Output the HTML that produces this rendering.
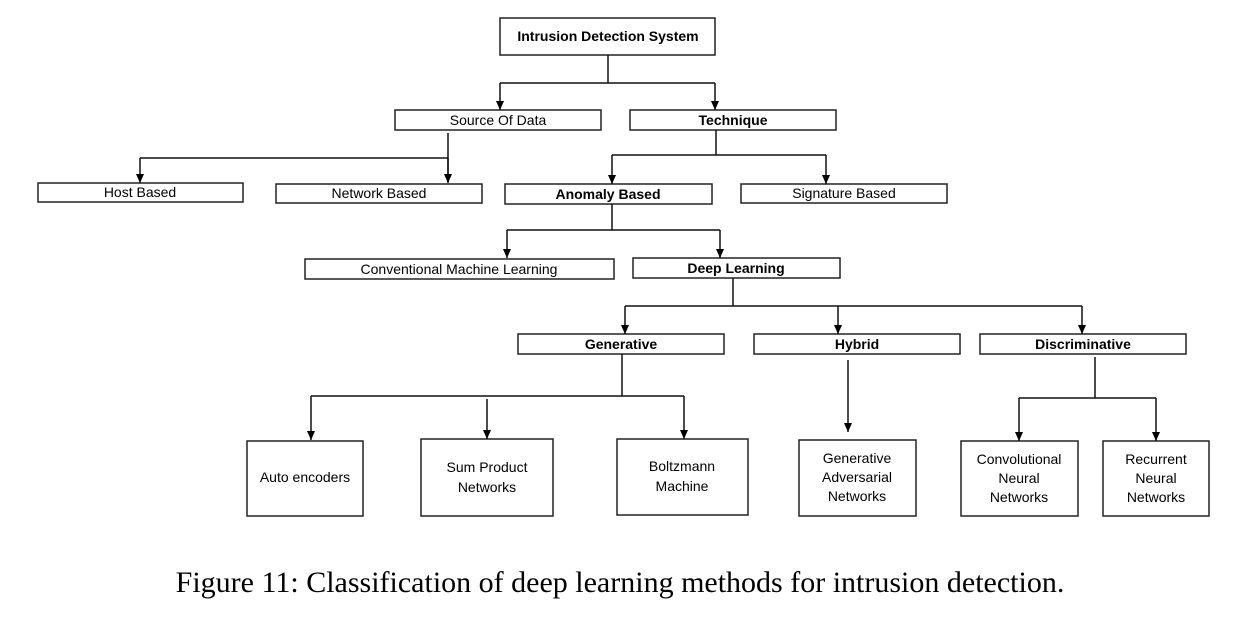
<!DOCTYPE html>
<html><head><style>
body{margin:0;background:#fff;width:1260px;height:615px;overflow:hidden}
svg text{font-family:"Liberation Sans",sans-serif;font-size:14px;fill:#000}
.b{font-weight:bold}
</style></head><body>
<svg width="1260" height="615" xmlns="http://www.w3.org/2000/svg">
<defs><marker id="a" markerWidth="9" markerHeight="9" refX="9" refY="4" orient="auto" markerUnits="userSpaceOnUse"><path d="M0,0 L9,4 L0,8 z" fill="#000"/></marker></defs>
<g fill="none" stroke="#222" stroke-width="1.5">
<rect x="500" y="18" width="215" height="37"/>
<rect x="395" y="110" width="206" height="20"/>
<rect x="630" y="110" width="206" height="20"/>
<rect x="38" y="183" width="205" height="19"/>
<rect x="276" y="184" width="206" height="19"/>
<rect x="505" y="184" width="207" height="20"/>
<rect x="741" y="184" width="206" height="19"/>
<rect x="305" y="259" width="309" height="20"/>
<rect x="633" y="258" width="207" height="20"/>
<rect x="518" y="334" width="206" height="20"/>
<rect x="754" y="334" width="206" height="20"/>
<rect x="980" y="334" width="206" height="20"/>
<rect x="247" y="441" width="116" height="75"/>
<rect x="421" y="439" width="132" height="77"/>
<rect x="617" y="439" width="131" height="76"/>
<rect x="799" y="440" width="117" height="76"/>
<rect x="961" y="441" width="117" height="75"/>
<rect x="1103" y="441" width="106" height="75"/>
</g>
<g fill="none" stroke="#111" stroke-width="1.5">
<path d="M608,55V83M500,83H715"/><path d="M500,83V110" marker-end="url(#a)"/><path d="M715,83V110" marker-end="url(#a)"/>
<path d="M448,133V182M140,158H448"/><path d="M140,158V183" marker-end="url(#a)"/><path d="M448,158V183" marker-end="url(#a)"/>
<path d="M716,130V155M612,155H826"/><path d="M612,155V184" marker-end="url(#a)"/><path d="M826,155V184" marker-end="url(#a)"/>
<path d="M612,204V230M507,230H720"/><path d="M507,230V258" marker-end="url(#a)"/><path d="M720,230V258" marker-end="url(#a)"/>
<path d="M733,278V306M625,306H1082"/><path d="M625,306V334" marker-end="url(#a)"/><path d="M838,306V334" marker-end="url(#a)"/><path d="M1082,306V334" marker-end="url(#a)"/>
<path d="M622,354V396M311,396H684"/><path d="M311,396V440" marker-end="url(#a)"/><path d="M487,399V439" marker-end="url(#a)"/><path d="M684,396V439" marker-end="url(#a)"/>
<path d="M848,360V432" marker-end="url(#a)"/>
<path d="M1095,357V398M1019,398H1156"/><path d="M1019,398V441" marker-end="url(#a)"/><path d="M1156,398V441" marker-end="url(#a)"/>
</g>
<g text-anchor="middle">
<text x="608" y="41" class="b">Intrusion Detection System</text>
<text x="498" y="125">Source Of Data</text>
<text x="733" y="125" class="b">Technique</text>
<text x="140" y="197">Host Based</text>
<text x="379" y="198">Network Based</text>
<text x="608" y="199" class="b">Anomaly Based</text>
<text x="844" y="198">Signature Based</text>
<text x="459" y="274">Conventional Machine Learning</text>
<text x="736" y="273" class="b">Deep Learning</text>
<text x="621" y="349" class="b">Generative</text>
<text x="857" y="349" class="b">Hybrid</text>
<text x="1083" y="349" class="b">Discriminative</text>
<text x="305" y="482">Auto encoders</text>
<text x="487" y="472">Sum Product</text><text x="487" y="492">Networks</text>
<text x="682" y="471">Boltzmann</text><text x="682" y="491">Machine</text>
<text x="857" y="463">Generative</text><text x="857" y="482">Adversarial</text><text x="857" y="501">Networks</text>
<text x="1019" y="464">Convolutional</text><text x="1019" y="483">Neural</text><text x="1019" y="502">Networks</text>
<text x="1156" y="464">Recurrent</text><text x="1156" y="483">Neural</text><text x="1156" y="502">Networks</text>
<text x="620" y="592" style="font-family:'Liberation Serif',serif;font-size:30px">Figure 11: Classification of deep learning methods for intrusion detection.</text>
</g>
</svg>
</body></html>
